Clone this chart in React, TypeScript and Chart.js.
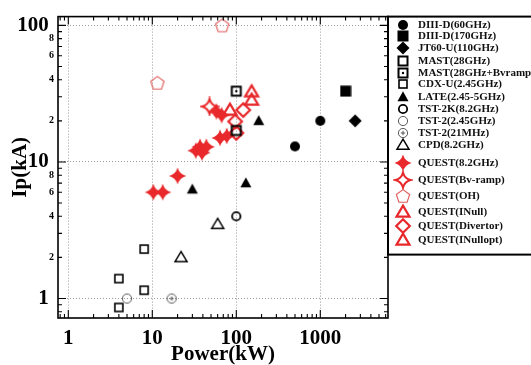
import React, { useEffect, useRef } from 'react';
import { Chart, registerables } from 'chart.js';

Chart.register(...registerables);

// ---------------- data ----------------
const seriesLabels = [
  'DIII-D(60GHz)', 'DIII-D(170GHz)', 'JT60-U(110GHz)', 'MAST(28GHz)', 'MAST(28GHz+Bvramp)',
  'CDX-U(2.45GHz)', 'LATE(2.45-5GHz)', 'TST-2K(8.2GHz)', 'TST-2(2.45GHz)', 'TST-2(21MHz)',
  'CPD(8.2GHz)', 'QUEST(8.2GHz)', 'QUEST(Bv-ramp)', 'QUEST(OH)', 'QUEST(INull)',
  'QUEST(Divertor)', 'QUEST(INullopt)',
];

const diiid60Power = [500, 1000];
const diiid60Ip = [13, 20];
const diiid170Power = [2000];
const diiid170Ip = [33];
const jt60Power = [2600];
const jt60Ip = [20];
const mastPower = [100];
const mastIp = [17];
const mastBvPower = [100];
const mastBvIp = [33];
const cdxuPower = [8, 4, 8, 4];
const cdxuIp = [2.3, 1.4, 1.15, 0.86];
const latePower = [30, 130, 185];
const lateIp = [6.3, 7, 20];
const tst2kPower = [100];
const tst2kIp = [4];
const tst2Power = [5];
const tst2Ip = [1];
const tst2rfPower = [17];
const tst2rfIp = [1];
const cpdPower = [22, 60];
const cpdIp = [2, 3.5];
const quest82Power = [10.3, 13.3, 20, 33, 37, 44, 39, 64, 77, 58, 67];
const quest82Ip = [6, 6, 7.9, 12.1, 12.9, 12.9, 11.7, 15, 15.5, 23.4, 22];
const questBvPower = [48];
const questBvIp = [25.5];
const questOhPower = [11.5, 68];
const questOhIp = [38, 100];
const questINullPower = [84, 152];
const questINullIp = [24, 28.4];
const questDivPower = [121, 97, 100];
const questDivIp = [24, 19.8, 16.3];
const questINulloptPower = [152];
const questINulloptIp = [32.7];

const xTickValues = [1, 10, 100, 1000];
const xTickLabels = ['1', '10', '100', '1000'];
const yTickValues = [1, 2, 4, 6, 8, 10, 20, 40, 60, 80, 100];
const yTickLabels = ['1', '2', '4', '6', '8', '10', '2', '4', '6', '8', '100'];
const yMajorValues = [1, 10, 100];

const X_MIN = 0.754;
const X_MAX = 6400;
const Y_MIN = 0.72;
const Y_MAX = 116;

// ---------------- styles ----------------
const FONT = '"Liberation Serif", "Times New Roman", "DejaVu Serif", serif';
const RED = '#e8282b';
const RED_LIGHT = '#e05a5a';
const LEGEND_ROW_Y = [25, 36, 48, 61, 73, 84, 97, 109, 121, 133, 145, 163, 180, 196, 212, 226, 240];

function makeCanvas(size: number, draw: (c: CanvasRenderingContext2D, m: number) => void) {
  const cv = document.createElement('canvas');
  cv.width = size;
  cv.height = size;
  const c = cv.getContext('2d') as CanvasRenderingContext2D;
  draw(c, size / 2);
  return cv;
}

function triPath(c: CanvasRenderingContext2D, m: number, w: number, h: number) {
  c.beginPath();
  c.moveTo(m, m - h * 0.58);
  c.lineTo(m + w / 2, m + h * 0.42);
  c.lineTo(m - w / 2, m + h * 0.42);
  c.closePath();
}

function diamondPath(c: CanvasRenderingContext2D, m: number, r: number) {
  c.beginPath();
  c.moveTo(m, m - r);
  c.lineTo(m + r, m);
  c.lineTo(m, m + r);
  c.lineTo(m - r, m);
  c.closePath();
}

function star4Path(c: CanvasRenderingContext2D, m: number, R: number, k: number) {
  c.beginPath();
  c.moveTo(m, m - R);
  c.quadraticCurveTo(m + k * R, m - k * R, m + R, m);
  c.quadraticCurveTo(m + k * R, m + k * R, m, m + R);
  c.quadraticCurveTo(m - k * R, m + k * R, m - R, m);
  c.quadraticCurveTo(m - k * R, m - k * R, m, m - R);
  c.closePath();
}

function buildMarkers() {
  return {
    fCircle: makeCanvas(12, (c, m) => { c.fillStyle = '#000'; c.beginPath(); c.arc(m, m, 5, 0, Math.PI * 2); c.fill(); }),
    fSquare: makeCanvas(12, (c, m) => { c.fillStyle = '#000'; c.fillRect(m - 5.5, m - 5.5, 11, 11); }),
    fDiamond: makeCanvas(14, (c, m) => { c.fillStyle = '#000'; diamondPath(c, m, 6.5); c.fill(); }),
    oSquare: makeCanvas(14, (c, m) => { c.strokeStyle = '#000'; c.lineWidth = 2; c.strokeRect(m - 4.5, m - 4.5, 9, 9); }),
    oSquareDot: makeCanvas(14, (c, m) => {
      c.strokeStyle = '#000'; c.lineWidth = 2; c.strokeRect(m - 4.5, m - 4.5, 9, 9);
      c.fillStyle = '#000'; c.beginPath(); c.arc(m, m, 1.2, 0, Math.PI * 2); c.fill();
    }),
    oSquareThin: makeCanvas(12, (c, m) => { c.strokeStyle = '#000'; c.lineWidth = 1.6; c.strokeRect(m - 4, m - 4, 8, 8); }),
    fTriangle: makeCanvas(14, (c, m) => { c.fillStyle = '#000'; triPath(c, m, 11, 10); c.fill(); }),
    oCircle: makeCanvas(12, (c, m) => { c.strokeStyle = '#000'; c.lineWidth = 1.8; c.beginPath(); c.arc(m, m, 4.2, 0, Math.PI * 2); c.stroke(); }),
    oCircleThin: makeCanvas(12, (c, m) => { c.strokeStyle = '#333'; c.lineWidth = 0.8; c.beginPath(); c.arc(m, m, 4.6, 0, Math.PI * 2); c.stroke(); }),
    oCirclePlus: makeCanvas(12, (c, m) => {
      c.strokeStyle = '#333'; c.lineWidth = 0.8; c.beginPath(); c.arc(m, m, 4.6, 0, Math.PI * 2); c.stroke();
      c.beginPath(); c.moveTo(m - 2.2, m); c.lineTo(m + 2.2, m); c.moveTo(m, m - 2.2); c.lineTo(m, m + 2.2); c.stroke();
    }),
    oTriangle: makeCanvas(16, (c, m) => { c.strokeStyle = '#000'; c.lineWidth = 1.5; triPath(c, m, 12, 10); c.stroke(); }),
    rStar: makeCanvas(20, (c, m) => { c.fillStyle = RED; star4Path(c, m, 8.6, 0.22); c.fill(); }),
    rStarOpen: makeCanvas(20, (c, m) => { c.strokeStyle = RED; c.lineWidth = 2; star4Path(c, m, 7.6, 0.2); c.stroke(); }),
    rPentagon: makeCanvas(18, (c, m) => {
      c.strokeStyle = RED_LIGHT; c.lineWidth = 1.1; c.beginPath();
      for (let i = 0; i < 5; i++) {
        const a = -Math.PI / 2 + (i * 2 * Math.PI) / 5;
        const px = m + 7 * Math.cos(a);
        const py = m + 0.6 + 7 * Math.sin(a);
        if (i === 0) c.moveTo(px, py); else c.lineTo(px, py);
      }
      c.closePath(); c.stroke();
    }),
    rTriangle: makeCanvas(18, (c, m) => { c.strokeStyle = RED; c.lineWidth = 2.2; triPath(c, m, 13, 11); c.stroke(); }),
    rDiamond: makeCanvas(18, (c, m) => { c.strokeStyle = RED; c.lineWidth = 2.2; diamondPath(c, m, 6.8); c.stroke(); }),
  };
}

type Series = { label: string; px: number[]; ip: number[]; mk: HTMLCanvasElement };

function makeFramePlugin(series: Series[]) {
  return {
    id: 'frameAndLegend',
    afterDraw(chart: any) {
      const { ctx, chartArea: a, scales } = chart;
      const xs = scales.x;
      const ys = scales.y;
      ctx.save();
      // frame
      ctx.strokeStyle = '#000';
      ctx.lineWidth = 1.6;
      ctx.strokeRect(a.left, a.top, a.right - a.left, a.bottom - a.top);
      // inner ticks
      ctx.lineWidth = 1.1;
      ctx.beginPath();
      for (let e = -1; e <= 4; e++) {
        for (let k = 1; k <= 9; k++) {
          const v = k * Math.pow(10, e);
          if (v >= xs.min && v <= xs.max) {
            const p = xs.getPixelForValue(v);
            const len = k === 1 ? 8 : 4;
            ctx.moveTo(p, a.bottom); ctx.lineTo(p, a.bottom - len);
            ctx.moveTo(p, a.top); ctx.lineTo(p, a.top + len);
          }
          if (v >= ys.min && v <= ys.max) {
            const p = ys.getPixelForValue(v);
            const len = k === 1 ? 8 : 4;
            ctx.moveTo(a.left, p); ctx.lineTo(a.left + len, p);
            ctx.moveTo(a.right, p); ctx.lineTo(a.right - len, p);
          }
        }
      }
      ctx.stroke();
      // legend box
      const lx = a.right;
      const ly = a.top;
      ctx.fillStyle = '#fff';
      ctx.fillRect(lx, ly, 160, 238);
      ctx.lineWidth = 2;
      ctx.strokeStyle = '#000';
      ctx.strokeRect(lx, ly, 160, 238);
      ctx.font = `bold 11px ${FONT}`;
      ctx.textBaseline = 'middle';
      ctx.textAlign = 'left';
      ctx.fillStyle = '#111';
      series.forEach((s, i) => {
        const y = LEGEND_ROW_Y[i];
        const img = s.mk;
        ctx.drawImage(img, lx + 15 - img.width / 2, y - img.height / 2);
        ctx.fillText(s.label, lx + 30, y + 0.5);
      });
      ctx.restore();
    },
  };
}

export default function App() {
  const ref = useRef<HTMLCanvasElement>(null);

  useEffect(() => {
    const M = buildMarkers();
    const series: Series[] = [
      { label: seriesLabels[0], px: diiid60Power, ip: diiid60Ip, mk: M.fCircle },
      { label: seriesLabels[1], px: diiid170Power, ip: diiid170Ip, mk: M.fSquare },
      { label: seriesLabels[2], px: jt60Power, ip: jt60Ip, mk: M.fDiamond },
      { label: seriesLabels[3], px: mastPower, ip: mastIp, mk: M.oSquare },
      { label: seriesLabels[4], px: mastBvPower, ip: mastBvIp, mk: M.oSquareDot },
      { label: seriesLabels[5], px: cdxuPower, ip: cdxuIp, mk: M.oSquareThin },
      { label: seriesLabels[6], px: latePower, ip: lateIp, mk: M.fTriangle },
      { label: seriesLabels[7], px: tst2kPower, ip: tst2kIp, mk: M.oCircle },
      { label: seriesLabels[8], px: tst2Power, ip: tst2Ip, mk: M.oCircleThin },
      { label: seriesLabels[9], px: tst2rfPower, ip: tst2rfIp, mk: M.oCirclePlus },
      { label: seriesLabels[10], px: cpdPower, ip: cpdIp, mk: M.oTriangle },
      { label: seriesLabels[11], px: quest82Power, ip: quest82Ip, mk: M.rStar },
      { label: seriesLabels[12], px: questBvPower, ip: questBvIp, mk: M.rStarOpen },
      { label: seriesLabels[13], px: questOhPower, ip: questOhIp, mk: M.rPentagon },
      { label: seriesLabels[14], px: questINullPower, ip: questINullIp, mk: M.rTriangle },
      { label: seriesLabels[15], px: questDivPower, ip: questDivIp, mk: M.rDiamond },
      { label: seriesLabels[16], px: questINulloptPower, ip: questINulloptIp, mk: M.rTriangle },
    ];

    const bigFont = { family: FONT, size: 21, weight: 'bold' as const };
    const smallFont = { family: FONT, size: 10, weight: 'bold' as const };

    const chart = new Chart(ref.current as HTMLCanvasElement, {
      type: 'scatter',
      data: {
        datasets: series.map((s) => ({
          label: s.label,
          data: s.px.map((p, i) => ({ x: p, y: s.ip[i] })),
          pointStyle: s.mk as any,
          pointRadius: 6,
          pointHoverRadius: 6,
        })),
      },
      options: {
        responsive: false,
        animation: false,
        events: [],
        layout: { padding: { left: 0, top: 12, right: 143, bottom: 0 } },
        plugins: { legend: { display: false }, tooltip: { enabled: false } },
        scales: {
          x: {
            type: 'logarithmic',
            position: 'bottom',
            min: X_MIN,
            max: X_MAX,
            bounds: 'data',
            afterBuildTicks: (s: any) => { s.ticks = xTickValues.map((v) => ({ value: v })); },
            afterFit: (s: any) => { s.height = 47; },
            grid: { color: '#9a9a9a', lineWidth: 1, drawTicks: false },
            border: { display: false, dash: [1, 2] },
            ticks: {
              autoSkip: false,
              maxRotation: 0,
              padding: 8,
              color: '#000',
              font: bigFont,
              callback: (_v: any, i: number) => xTickLabels[i],
            },
            title: {
              display: true,
              text: 'Power(kW)',
              color: '#000',
              font: { family: FONT, size: 21, weight: 'bold', lineHeight: 1 },
              padding: { top: 0, bottom: 0 },
            },
          },
          y: {
            type: 'logarithmic',
            min: Y_MIN,
            max: Y_MAX,
            bounds: 'data',
            afterBuildTicks: (s: any) => { s.ticks = yTickValues.map((v) => ({ value: v })); },
            afterFit: (s: any) => { s.width = 58; },
            grid: {
              color: (c: any) => (c.tick && yMajorValues.includes(c.tick.value) ? '#9a9a9a' : 'rgba(0,0,0,0)'),
              lineWidth: 1,
              drawTicks: false,
            },
            border: { display: false, dash: [1, 2] },
            ticks: {
              autoSkip: false,
              padding: 4,
              color: '#000',
              font: (c: any) => (c.tick && yMajorValues.includes(c.tick.value) ? bigFont : smallFont),
              callback: (_v: any, i: number) =>
                yMajorValues.includes(yTickValues[i]) ? yTickLabels[i] + ' ' : yTickLabels[i],
            },
            title: {
              display: true,
              text: 'Ip(kA)',
              color: '#000',
              font: { family: FONT, size: 21, weight: 'bold', lineHeight: 1.2 },
              padding: { top: 8, bottom: 0 },
            },
          },
        },
      } as any,
      plugins: [makeFramePlugin(series)],
    });

    return () => chart.destroy();
  }, []);

  return (
    <div style={{ position: 'fixed', left: 0, top: 0, width: 531, height: 365, background: '#fff' }}>
      <canvas ref={ref} width={531} height={365} style={{ display: 'block' }} />
    </div>
  );
}
